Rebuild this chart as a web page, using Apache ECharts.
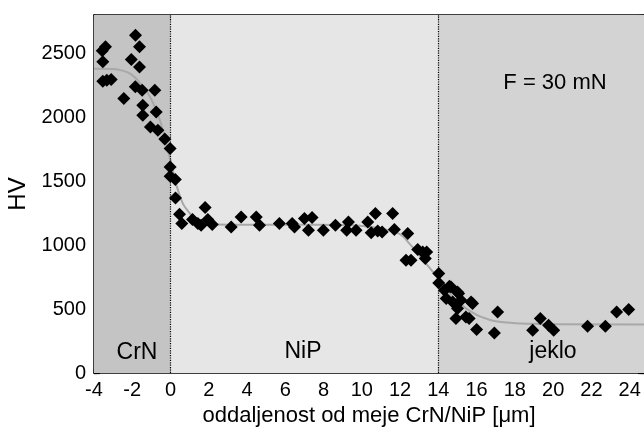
<!DOCTYPE html>
<html><head><meta charset="utf-8">
<script src="https://cdn.jsdelivr.net/npm/echarts@6/dist/echarts.min.js"></script>
<style>html,body{margin:0;padding:0;background:#fff}#c{width:644px;height:432px}</style>
</head><body><div id="c"></div><script>
// Measured hardness points [x (µm), HV]
const crnPoints = [[-3.57,2520],[-3.40,2551],[-3.54,2434],[-3.54,2282],[-3.33,2290],[-3.10,2295],[-2.44,2147],[-2.05,2452],[-1.83,2642],[-1.62,2551],[-1.62,2394],[-1.84,2238],[-1.48,2212],[-0.82,2212],[-1.45,2095],[-0.75,2042],[-1.45,2016],[-1.05,1925],[-0.66,1899],[-0.30,1830],[-0.02,1756],[-0.02,1612],[-0.02,1539]];
const nipPoints = [[0.25,1513],[0.26,1368],[0.47,1242],[0.59,1169],[1.15,1200],[1.43,1169],[1.60,1156],[1.81,1294],[1.95,1200],[2.18,1161],[3.17,1142],[3.69,1221],[4.48,1221],[4.65,1156],[5.69,1169],[6.36,1169],[6.48,1142],[7.00,1208],[7.40,1216],[7.21,1117],[7.99,1117],[8.62,1156],[9.30,1181],[9.21,1117],[9.70,1117],[10.31,1181],[10.71,1247],[10.49,1096],[10.83,1111],[11.06,1103],[11.61,1247],[11.70,1122],[12.40,1091],[12.92,966],[13.18,947],[13.39,947],[12.31,882],[12.57,882],[13.32,895]];
const steelPoints = [[14.02,778],[14.02,704],[14.58,678],[14.66,673],[14.32,647],[15.00,634],[15.06,621],[14.41,582],[14.75,556],[15.18,569],[15.71,556],[15.79,543],[15.00,504],[17.10,477],[14.92,426],[15.44,438],[15.61,426],[16.00,340],[16.93,313],[18.93,334],[19.33,426],[19.76,373],[20.03,334],[21.80,365],[22.73,365],[23.32,477],[23.95,496]];
// Fitted curve
const fitX = [-4,-3,-2.5,-2,-1.5,-1,-0.5,0,0.5,1,1.5,2,3,6,9,10,11,11.5,12,12.5,13,13.5,14,14.5,15,15.5,16,16.5,17,18,19,20,24.75];
const fitY = [2380,2378,2365,2330,2250,2140,1950,1660,1380,1250,1190,1170,1160,1160,1158,1150,1130,1110,1085,1010,920,830,740,640,560,500,455,425,405,390,385,382,380];
// Regions
const regionNames = ['CrN','NiP','jeklo'];
const regionStart = [-4,0,14];
const regionEnd = [0,14,24.75];
const regionColors = ['#c4c4c4','#e6e6e6','#d3d3d3'];
const boundaries = [0,14];
const xMin = -4, xMax = 24.75, yMin = 0, yMax = 2800;

const FONT = "'Liberation Sans', Arial, sans-serif";
const chart = echarts.init(document.getElementById('c'), null, {renderer:'canvas'});

function xAx(pos, interval, len, labels, line, extra) {
  return Object.assign({
    type:'value', position:pos, min:xMin, max:xMax, interval:interval,
    axisLine:{show:line, onZero:false, lineStyle:{color:'#000', width:1.5}},
    axisTick:{show:true, inside:true, length:len, lineStyle:{color:'#000', width:1.2}},
    axisLabel:{show:labels, color:'#000', fontSize:20, fontFamily:FONT, margin:7, showMaxLabel:false,
      formatter:v=>String(v)},
    splitLine:{show:false}
  }, extra||{});
}
function yAx(pos, interval, len, labels, line, extra) {
  return Object.assign({
    type:'value', position:pos, min:yMin, max:yMax, interval:interval,
    axisLine:{show:line, onZero:false, lineStyle:{color:'#000', width:1.5}},
    axisTick:{show:true, inside:true, length:len, lineStyle:{color:'#000', width:1.2}},
    axisLabel:{show:labels, color:'#000', fontSize:20, fontFamily:FONT, margin:8, showMaxLabel:false,
      formatter:v=>String(v)},
    splitLine:{show:false}
  }, extra||{});
}

const allPoints = crnPoints.concat(nipPoints, steelPoints);

chart.setOption({
  animation:false,
  backgroundColor:'#fff',
  grid:{left:94, right:0, top:15, bottom:59, containLabel:false, outerBoundsMode:'none'},
  xAxis:[
    xAx('bottom',2,6,true,true,{name:'oddaljenost od meje CrN/NiP [μm]', nameLocation:'middle', nameGap:29,
      nameTextStyle:{color:'#000', fontSize:22, fontFamily:FONT}}),
    xAx('bottom',1,3,false,false),
    xAx('top',2,6,false,true),
    xAx('top',1,3,false,false)
  ],
  yAxis:[
    yAx('left',500,6,true,true,{name:'HV', nameLocation:'middle', nameGap:58,
      nameTextStyle:{color:'#000', fontSize:24, fontFamily:FONT}}),
    yAx('left',100,3,false,false),
    yAx('right',500,6,false,true),
    yAx('right',100,3,false,false)
  ],
  graphic:[
    {type:'text', z:100, style:{text:'CrN', x:137, y:353, textAlign:'center', textVerticalAlign:'middle', font:'23px '+FONT, fill:'#000'}},
    {type:'text', z:100, style:{text:'NiP', x:303, y:352, textAlign:'center', textVerticalAlign:'middle', font:'23px '+FONT, fill:'#000'}},
    {type:'text', z:100, style:{text:'jeklo', x:553, y:352, textAlign:'center', textVerticalAlign:'middle', font:'23px '+FONT, fill:'#000'}},
    {type:'text', z:100, style:{text:'F = 30 mN', x:555, y:83, textAlign:'center', textVerticalAlign:'middle', font:'22px '+FONT, fill:'#000'}}
  ],
  series:[
    {
      type:'line', xAxisIndex:0, yAxisIndex:0, data:[], silent:true, z:1,
      markArea:{silent:true, itemStyle:{opacity:1},
        data: regionNames.map((n,i)=>[{xAxis:regionStart[i], yAxis:yMin, itemStyle:{color:regionColors[i]}},{xAxis:regionEnd[i], yAxis:yMax}])},
      markLine:{silent:true, symbol:'none', label:{show:false},
        lineStyle:{color:'#000', type:'dotted', width:1.2},
        data: boundaries.map(b=>({xAxis:b}))}
    },
    {
      type:'line', xAxisIndex:0, yAxisIndex:0, z:3,
      data: fitX.map((x,i)=>[x, fitY[i]]),
      smooth:true, symbol:'none', lineStyle:{color:'#a8a8a8', width:2}
    },
    {
      type:'scatter', xAxisIndex:0, yAxisIndex:0, z:5,
      data: allPoints, symbol:'diamond', symbolSize:13,
      itemStyle:{color:'#000', opacity:1}
    }
  ]
});
</script></body></html>
